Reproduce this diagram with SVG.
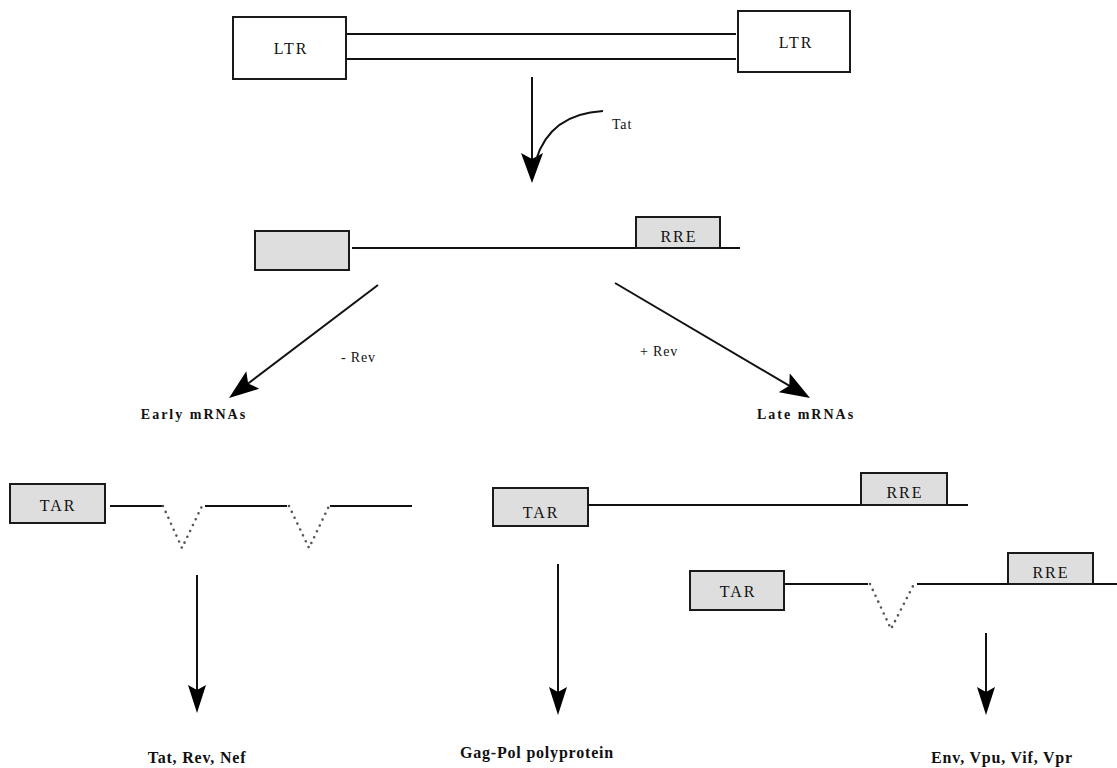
<svg xmlns="http://www.w3.org/2000/svg" width="1117" height="768" viewBox="0 0 1117 768">
<style>
.bg{fill:#ffffff}
.box{fill:#ffffff;stroke:#1a1a1a;stroke-width:2}
.gbox{fill:#dedede;stroke:#1a1a1a;stroke-width:2}
.ln{fill:none;stroke:#111;stroke-width:2}
.arr{fill:none;stroke:#111;stroke-width:2}
.dot{fill:none;stroke:#555;stroke-width:2.6;stroke-linecap:round;stroke-dasharray:0 6.5}
.t{font-family:"Liberation Serif","Times New Roman",serif;font-size:16px;fill:#111;letter-spacing:2px;text-anchor:middle}
.ts{font-family:"Liberation Serif","Times New Roman",serif;font-size:14px;fill:#111;letter-spacing:0.8px}
.tb{font-family:"Liberation Serif","Times New Roman",serif;font-size:14px;font-weight:bold;fill:#111;letter-spacing:2px;text-anchor:middle}
.tp{font-family:"Liberation Serif","Times New Roman",serif;font-size:16px;font-weight:bold;fill:#111;letter-spacing:0.8px;text-anchor:middle}
</style>
<defs>
<marker id="ah" markerUnits="userSpaceOnUse" markerWidth="30" markerHeight="22" viewBox="0 0 30 22" refX="22" refY="11" orient="auto">
<path d="M0,0 L30,11 L0,22 L6,11 Z" fill="#000"/>
</marker>
<marker id="ahs" markerUnits="userSpaceOnUse" markerWidth="28" markerHeight="18" viewBox="0 0 28 18" refX="20" refY="9" orient="auto">
<path d="M0,0 L28,9 L0,18 L5,9 Z" fill="#000"/>
</marker>
</defs>
<rect class="bg" x="0" y="0" width="1117" height="768"/>

<g id="provirus">
<g id="ltr-left">
<rect class="box" x="233" y="17" width="113" height="62"/>
<text class="t" x="291" y="54">LTR</text>
</g>
<g id="ltr-right">
<rect class="box" x="738" y="11" width="112" height="61"/>
<text class="t" x="796" y="48">LTR</text>
</g>
<line class="ln" x1="347" y1="34" x2="736" y2="34"/>
<line class="ln" x1="347" y1="59" x2="736" y2="59"/>
</g>

<g id="tat-label">
<text class="ts" x="612" y="129">Tat</text>
</g>

<g id="transcript">
<rect class="gbox" x="255" y="231" width="94" height="39"/>
<line class="ln" x1="352" y1="248" x2="740" y2="248"/>
<g id="rre-top">
<rect class="gbox" x="636" y="217" width="84" height="31"/>
<text class="t" x="679" y="242">RRE</text>
</g>
</g>

<g id="rev-labels">
<text class="ts" x="341" y="362">- Rev</text>
<text class="ts" x="640" y="356">+ Rev</text>
</g>

<g id="early-label"><text class="tb" x="194" y="419">Early mRNAs</text></g>
<g id="late-label"><text class="tb" x="806" y="419">Late mRNAs</text></g>

<g id="early-mrna">
<rect class="gbox" x="10" y="484" width="95" height="39"/>
<text class="t" x="58" y="511">TAR</text>
<line class="ln" x1="110" y1="506" x2="163" y2="506"/>
<polyline class="dot" points="163,506 182,548 202,506"/>
<line class="ln" x1="205" y1="506" x2="287" y2="506"/>
<polyline class="dot" points="289,506 309,548 329,506"/>
<line class="ln" x1="330" y1="506" x2="412" y2="506"/>
</g>

<g id="late-mrna-1">
<rect class="gbox" x="493" y="488" width="95" height="38"/>
<text class="t" x="541" y="518">TAR</text>
<line class="ln" x1="588" y1="505" x2="968" y2="505"/>
<rect class="gbox" x="861" y="473" width="86" height="32"/>
<text class="t" x="905" y="498">RRE</text>
</g>

<g id="late-mrna-2">
<rect class="gbox" x="690" y="571" width="94" height="39"/>
<text class="t" x="738" y="597">TAR</text>
<line class="ln" x1="785" y1="584" x2="868" y2="584"/>
<polyline class="dot" points="870,584 891,629 914,584"/>
<line class="ln" x1="917" y1="584" x2="1117" y2="584"/>
<rect class="gbox" x="1008" y="553" width="85" height="31"/>
<text class="t" x="1051" y="578">RRE</text>
</g>

<g id="products">
<text class="tp" x="197" y="763">Tat, Rev, Nef</text>
<text class="tp" x="537" y="758">Gag-Pol polyprotein</text>
<text class="tp" x="1002" y="763">Env, Vpu, Vif, Vpr</text>
</g>

<g id="connectors">
<line class="arr" x1="532" y1="77" x2="532" y2="175" marker-end="url(#ah)"/>
<path class="arr" d="M603,111 Q550,114 536,160"/>
<line class="arr" x1="378" y1="285" x2="235.4" y2="393.2" marker-end="url(#ah)"/>
<line class="arr" x1="615" y1="283" x2="803.1" y2="393.9" marker-end="url(#ah)"/>
<line class="arr" x1="197" y1="575" x2="197" y2="705" marker-end="url(#ahs)"/>
<line class="arr" x1="558" y1="564" x2="558" y2="707" marker-end="url(#ahs)"/>
<line class="arr" x1="986" y1="633" x2="986" y2="707" marker-end="url(#ahs)"/>
</g>
</svg>
